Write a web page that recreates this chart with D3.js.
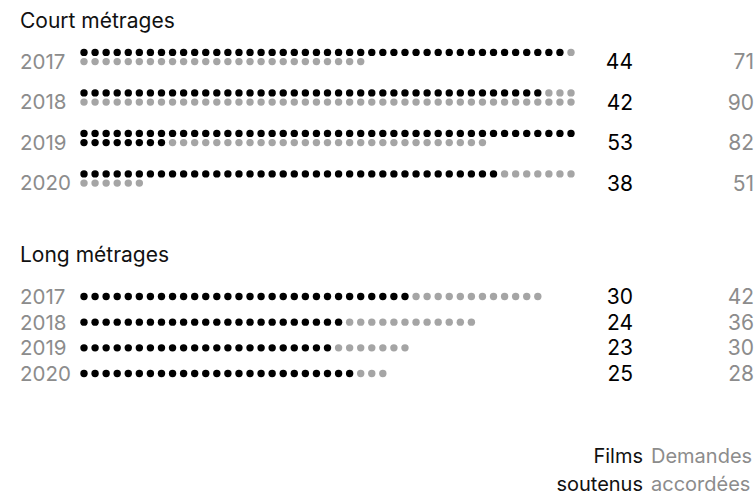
<!DOCTYPE html>
<html>
<head>
<meta charset="utf-8">
<script src="https://cdn.jsdelivr.net/npm/d3@7"></script>
<style>
  body { margin: 0; background: #fff; }
  svg { display: block; font-family: Inter, 'Liberation Sans', Arial, sans-serif; }
</style>
</head>
<body>
<div id="chart"></div>
<script>
var years = [2017, 2018, 2019, 2020];
var court_films = [44, 42, 53, 38];
var court_demandes = [71, 90, 82, 51];
var long_films = [30, 24, 23, 25];
var long_demandes = [42, 36, 30, 28];

var w = 756;
var h = 495;
var per_row = 45;

var BLACK = '#000';
var GREY = '#a5a5a5';
var LABEL_GREY = '#8c8c8c';

var svg = d3.select('#chart')
    .append('svg')
    .attr('width', w)
    .attr('height', h);

// one dot index -> x position, same for both blocks
var xScale = d3.scaleLinear()
    .domain([0, per_row - 1])
    .range([84, 571]);

var yCourt = d3.scalePoint()
    .domain(years)
    .range([57, 178.5]);

var yLong = d3.scalePoint()
    .domain(years)
    .range([296.5, 373.5]);

function dots_for(films, demandes, rows) {
    var out = [];
    years.forEach(function(y, k) {
        for (var i = 0; i < demandes[k]; i++) {
            out.push({
                year: y,
                col: rows ? i % per_row : i,
                row: rows ? Math.floor(i / per_row) : 0,
                on: i < films[k]
            });
        }
    });
    return out;
}

function draw_block(title, titleY, yScale, films, demandes, two_rows) {

    svg.append('text')
        .attr('x', 20)
        .attr('y', titleY)
        .attr('font-size', 21)
        .attr('fill', '#111')
        .text(title);

    var rowStep = 9.2;
    var g = svg.append('g');

    g.selectAll('circle')
        .data(dots_for(films, demandes, two_rows))
        .enter()
        .append('circle')
        .attr('cx', function(d) { return xScale(d.col); })
        .attr('cy', function(d) {
            if (!two_rows) return yScale(d.year);
            return yScale(d.year) + (d.row - 0.5) * rowStep;
        })
        .attr('r', 3.7)
        .attr('fill', function(d) { return d.on ? BLACK : GREY; });

    var textOff = two_rows ? 4.5 : 0;

    svg.selectAll(null)
        .data(years)
        .enter()
        .append('text')
        .attr('x', 20)
        .attr('y', function(d) { return yScale(d) + textOff; })
        .attr('dy', '0.36em')
        .attr('font-size', 20.5)
        .attr('fill', LABEL_GREY)
        .text(function(d) { return d; });

    svg.selectAll(null)
        .data(films)
        .enter()
        .append('text')
        .attr('x', 633)
        .attr('y', function(d, i) { return yScale(years[i]) + textOff; })
        .attr('dy', '0.36em')
        .attr('text-anchor', 'end')
        .attr('font-size', 21)
        .attr('fill', BLACK)
        .text(function(d) { return d; });

    svg.selectAll(null)
        .data(demandes)
        .enter()
        .append('text')
        .attr('x', 754)
        .attr('y', function(d, i) { return yScale(years[i]) + textOff; })
        .attr('dy', '0.36em')
        .attr('text-anchor', 'end')
        .attr('font-size', 21)
        .attr('fill', LABEL_GREY)
        .text(function(d) { return d; });
}

draw_block('Court métrages', 28, yCourt, court_films, court_demandes, true);
draw_block('Long métrages', 262, yLong, long_films, long_demandes, false);

// column legend
var legend = [
    { lines: ['Films', 'soutenus'], x: 643, anchor: 'end', fill: '#111' },
    { lines: ['Demandes', 'accordées'], x: 651, anchor: 'start', fill: LABEL_GREY }
];

legend.forEach(function(l) {
    l.lines.forEach(function(t, i) {
        svg.append('text')
            .attr('x', l.x)
            .attr('y', 463 + i * 28)
            .attr('text-anchor', l.anchor)
            .attr('font-size', 20)
            .attr('fill', l.fill)
            .text(t);
    });
});
</script>
</body>
</html>
